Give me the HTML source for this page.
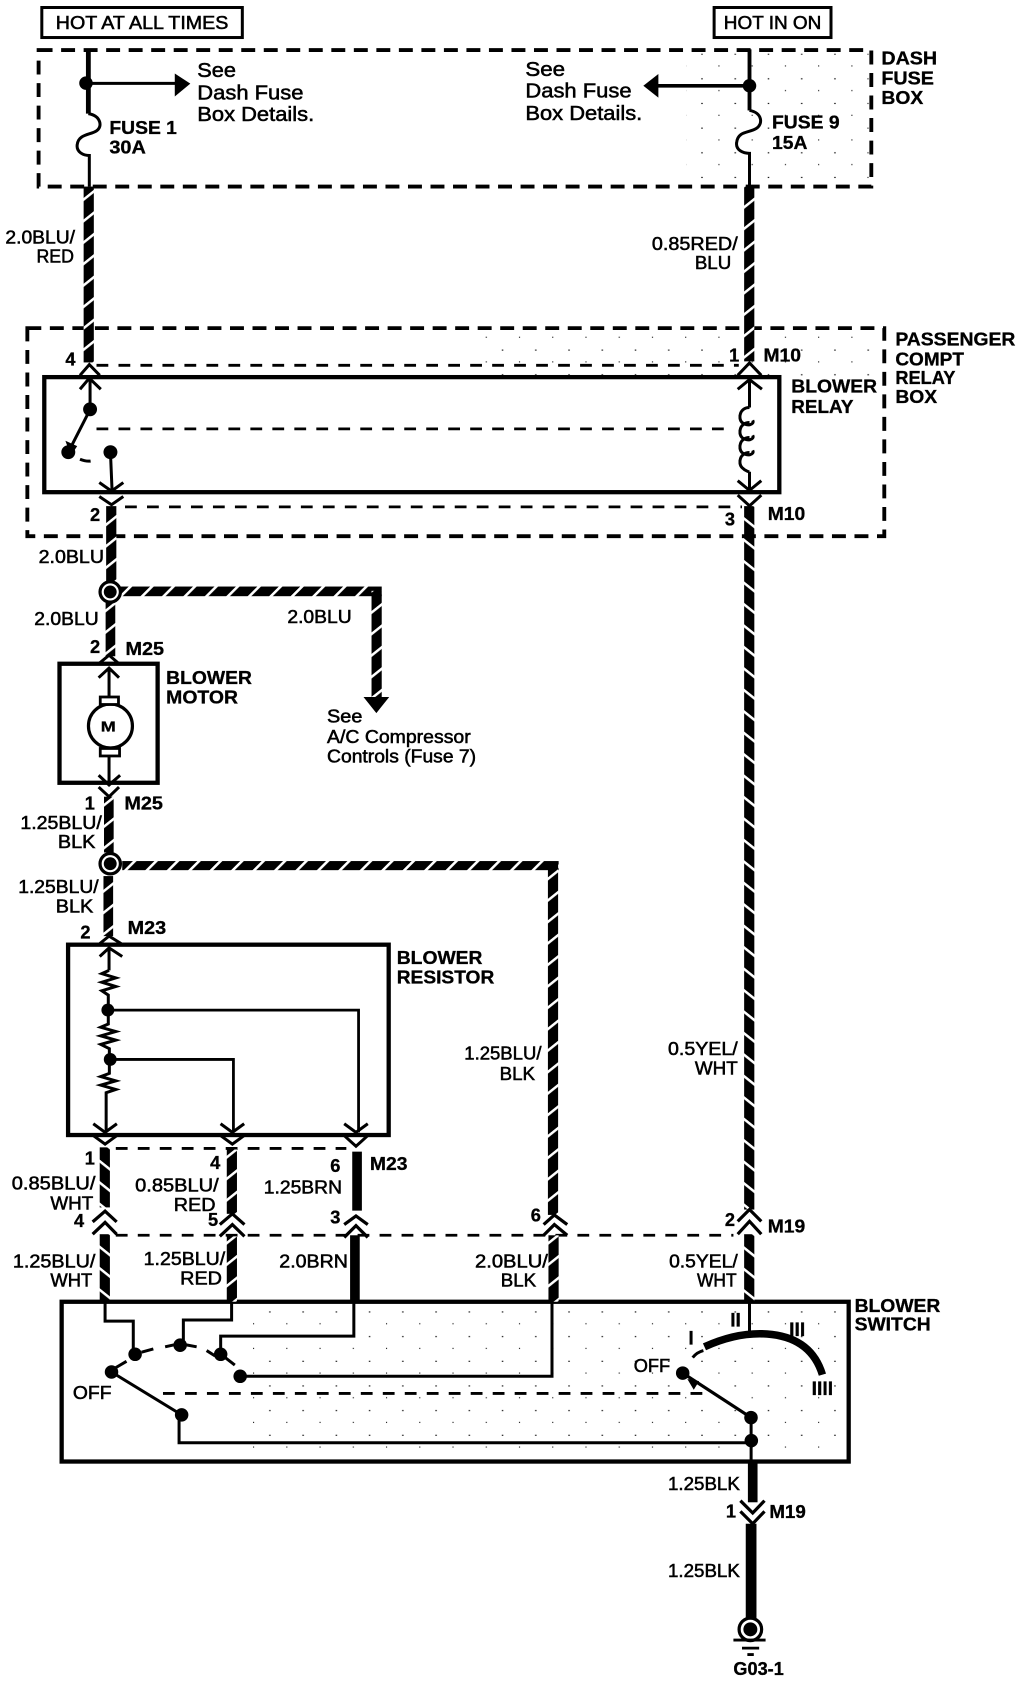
<!DOCTYPE html>
<html><head><meta charset="utf-8"><style>
html,body{margin:0;padding:0;background:#fff}
svg{display:block}
text{font-family:"Liberation Sans",Arial,sans-serif;font-size:17px;fill:#000;stroke:#000;stroke-width:.5px}
.b{font-weight:bold;stroke-width:.3px}
.s{font-size:19px}
.box{fill:none;stroke:#000;stroke-width:4}
.d{fill:none;stroke:#000;stroke-width:3.6;stroke-dasharray:13 8}
.i{fill:none;stroke:#000;stroke-width:2.6;stroke-dasharray:11 9.5}
.l{fill:none;stroke:#000;stroke-width:2.8}
.c{fill:none;stroke:#000;stroke-width:2.8;stroke-linejoin:miter}
</style></head><body>
<svg xmlns="http://www.w3.org/2000/svg" width="1024" height="1682" viewBox="0 0 955 1568.6" preserveAspectRatio="none">
<defs>
<pattern id="u" width="25" height="20" patternUnits="userSpaceOnUse" patternTransform="skewY(-38.66)"><rect width="25" height="20" fill="#000"/><rect y="7" width="25" height="3" fill="#fff"/></pattern>
<pattern id="e" width="25" height="20" patternUnits="userSpaceOnUse" patternTransform="skewY(38.66)"><rect width="25" height="20" fill="#000"/><rect y="7" width="25" height="3" fill="#fff"/></pattern>
<pattern id="h" width="20" height="20" patternUnits="userSpaceOnUse" patternTransform="skewX(-45)"><rect width="20" height="20" fill="#000"/><rect x="7" width="3.4" height="20" fill="#fff"/></pattern>
<pattern id="sp" width="31" height="23" patternUnits="userSpaceOnUse"><rect x="3" y="4" width="1.4" height="1" fill="#000"/><rect x="19" y="15" width="1" height="1" fill="#000"/></pattern>
</defs>

<!-- speckle -->
<rect x="640" y="50" width="170" height="120" fill="url(#sp)"/>
<rect x="440" y="312" width="380" height="40" fill="url(#sp)"/>
<rect x="225" y="1218" width="560" height="140" fill="url(#sp)"/>

<!-- top labels -->
<rect x="39" y="7" width="187" height="28" class="l"/>
<text x="52" y="27" textLength="161" lengthAdjust="spacingAndGlyphs">HOT AT ALL TIMES</text>
<rect x="666" y="7" width="109" height="28" class="l"/>
<text x="675" y="27" textLength="91" lengthAdjust="spacingAndGlyphs">HOT IN ON</text>

<!-- boxes -->
<rect x="36" y="46.7" width="776.6" height="127.3" class="d"/>
<rect x="25.5" y="306" width="799.2" height="194" class="d"/>
<rect x="41.3" y="351.7" width="685.5" height="107.3" class="box"/>
<rect x="55.5" y="619" width="91.5" height="111" class="box"/>
<rect x="63.5" y="881" width="299" height="177.5" class="box"/>
<rect x="57.5" y="1214" width="734" height="149" class="box"/>

<!-- inner dashed -->
<path d="M90 340.7H689M116.6 472.7H692M90 400H684M108 1071H323M108 1152H684M152 1299.5H658" class="i"/>

<!-- left top -->
<path d="M82.4 46V106" stroke="#000" stroke-width="4.5" fill="none"/>
<circle cx="80.2" cy="77.5" r="6.3"/>
<path d="M82 77.8H164" class="l"/>
<path d="M163 68.5L177.5 78L163 90Z"/>
<path d="M82.4 106C94 108 96 118 90 122C84 126 73 125 72 135C71 142 78 145 83.3 145V174" class="l"/>
<text x="184" y="72" class="s" textLength="36" lengthAdjust="spacingAndGlyphs">See</text>
<text x="184" y="93" class="s" textLength="99" lengthAdjust="spacingAndGlyphs">Dash Fuse</text>
<text x="184" y="113" class="s" textLength="109" lengthAdjust="spacingAndGlyphs">Box Details.</text>
<text x="102" y="125" class="b" textLength="63" lengthAdjust="spacingAndGlyphs">FUSE 1</text>
<text x="102" y="143" class="b" textLength="34" lengthAdjust="spacingAndGlyphs">30A</text>

<!-- right top -->
<path d="M699 46V103" stroke="#000" stroke-width="3.6" fill="none"/>
<circle cx="699" cy="80" r="6.3"/>
<path d="M699 80H612" stroke="#000" stroke-width="3.4" fill="none"/>
<path d="M614 69L600 80L614 91Z"/>
<path d="M699 103C711 105 712 116 705 120C699 124 688 122 687 133C686 140 693 143 699 143V174" class="l"/>
<text x="490" y="71" class="s" textLength="37" lengthAdjust="spacingAndGlyphs">See</text>
<text x="490" y="91" class="s" textLength="99" lengthAdjust="spacingAndGlyphs">Dash Fuse</text>
<text x="490" y="112" class="s" textLength="109" lengthAdjust="spacingAndGlyphs">Box Details.</text>
<text x="720" y="120" class="b" textLength="63" lengthAdjust="spacingAndGlyphs">FUSE 9</text>
<text x="720" y="139" class="b" textLength="33" lengthAdjust="spacingAndGlyphs">15A</text>
<text x="822" y="60" class="b" textLength="52" lengthAdjust="spacingAndGlyphs">DASH</text>
<text x="822" y="79" class="b" textLength="49" lengthAdjust="spacingAndGlyphs">FUSE</text>
<text x="822" y="97" class="b" textLength="39" lengthAdjust="spacingAndGlyphs">BOX</text>

<!-- twisted wires -->
<rect x="78" y="174" width="9.5" height="164" fill="url(#u)"/>
<rect x="694" y="174" width="9.5" height="163" fill="url(#u)"/>
<rect x="99" y="472" width="9.5" height="70" fill="url(#u)"/>
<rect x="98.5" y="562" width="9" height="50" fill="url(#u)"/>
<rect x="112" y="547" width="244" height="9" fill="url(#h)"/>
<rect x="346.5" y="551" width="9.5" height="100" fill="url(#u)"/>
<path d="M339 650H363L351 665Z"/>
<rect x="97" y="743" width="9" height="52" fill="url(#u)"/>
<rect x="96.5" y="817" width="9" height="56" fill="url(#u)"/>
<rect x="114" y="803" width="407" height="8.5" fill="url(#h)"/>
<rect x="511" y="806" width="9.5" height="327" fill="url(#u)"/>
<rect x="694" y="472" width="9.5" height="656" fill="url(#e)"/>
<rect x="93" y="1070" width="9.5" height="56" fill="url(#e)"/>
<rect x="211.5" y="1072" width="9.5" height="60" fill="url(#u)"/>
<rect x="328.5" y="1074" width="9" height="55" fill="#000"/>
<rect x="93" y="1151" width="9.5" height="63" fill="url(#e)"/>
<rect x="211.5" y="1153" width="9.5" height="61" fill="url(#u)"/>
<rect x="326.5" y="1152" width="9" height="62" fill="#000"/>
<rect x="511.5" y="1152" width="9.5" height="62" fill="url(#u)"/>
<rect x="694" y="1151" width="9.5" height="63" fill="url(#e)"/>
<rect x="697.5" y="1364" width="9" height="37" fill="#000"/>
<rect x="695.5" y="1421" width="10" height="90" fill="#000"/>

<!-- relay internals -->
<path d="M74.6 350L83.3 340L93 350M74.6 363L83.3 352.7L94 363M84 353V382M84 382L63.7 421.7M103 421.7L104.5 457M92.6 450L104 458L115 450M92.6 463L104 470.7L115 463M688 350L699 338.5L710 350M688 363L699 354L710.6 363M699 354V380M688 448.3L699 457.3L710 448.3M688 461.7L699 471.7L710 461.7M699 440V457" class="c"/>
<path d="M61 411L72 416L66 425Z"/>
<path d="M74.6 428.3Q80 430.5 84.5 430" class="l"/>
<circle cx="84" cy="381.7" r="6.5"/><circle cx="63.7" cy="421.7" r="6.5"/><circle cx="103" cy="421.7" r="6.5"/>
<path d="M699 380C690 380 688 390 692 394C697 398 704 396 702 392M699 394C690 394 688 404 692 408C697 412 704 410 702 406M699 408C690 408 688 418 692 422C697 426 704 424 702 420M699 422C690 422 688 432 692 436C696 440 699 440 699 440" class="l"/>

<!-- relay labels -->
<text x="835" y="322" class="b" textLength="112" lengthAdjust="spacingAndGlyphs">PASSENGER</text>
<text x="835" y="341" class="b" textLength="64" lengthAdjust="spacingAndGlyphs">COMPT</text>
<text x="835" y="358" class="b" textLength="56" lengthAdjust="spacingAndGlyphs">RELAY</text>
<text x="835" y="376" class="b" textLength="39" lengthAdjust="spacingAndGlyphs">BOX</text>
<text x="61" y="341" class="b">4</text>
<text x="680" y="337" class="b">1</text>
<text x="712" y="337" class="b" textLength="35" lengthAdjust="spacingAndGlyphs">M10</text>
<text x="738" y="366" class="b" textLength="80" lengthAdjust="spacingAndGlyphs">BLOWER</text>
<text x="738" y="385" class="b" textLength="58" lengthAdjust="spacingAndGlyphs">RELAY</text>
<text x="84" y="486" class="b">2</text>
<text x="676" y="490" class="b">3</text>
<text x="716" y="485" class="b" textLength="35" lengthAdjust="spacingAndGlyphs">M10</text>
<text x="5" y="227" textLength="65" lengthAdjust="spacingAndGlyphs">2.0BLU/</text>
<text x="34" y="245" textLength="35" lengthAdjust="spacingAndGlyphs">RED</text>
<text x="608" y="233" textLength="80" lengthAdjust="spacingAndGlyphs">0.85RED/</text>
<text x="648" y="251" textLength="34" lengthAdjust="spacingAndGlyphs">BLU</text>
<text x="36" y="525" textLength="61" lengthAdjust="spacingAndGlyphs">2.0BLU</text>
<text x="32" y="583" textLength="60" lengthAdjust="spacingAndGlyphs">2.0BLU</text>
<text x="268" y="581" textLength="60" lengthAdjust="spacingAndGlyphs">2.0BLU</text>
<text x="305" y="674" textLength="33" lengthAdjust="spacingAndGlyphs">See</text>
<text x="305" y="693" textLength="134" lengthAdjust="spacingAndGlyphs">A/C Compressor</text>
<text x="305" y="711" textLength="139" lengthAdjust="spacingAndGlyphs">Controls (Fuse 7)</text>

<!-- motor -->
<circle cx="102.8" cy="552" r="9.5" fill="#fff" stroke="#000" stroke-width="3"/><circle cx="102.8" cy="552" r="6"/>
<circle cx="102.8" cy="805.5" r="9.5" fill="#fff" stroke="#000" stroke-width="3"/><circle cx="102.8" cy="805.5" r="6"/>
<text x="84" y="609" class="b">2</text>
<text x="117" y="611" class="b" textLength="36" lengthAdjust="spacingAndGlyphs">M25</text>
<text x="155" y="638" class="b" textLength="80" lengthAdjust="spacingAndGlyphs">BLOWER</text>
<text x="155" y="656" class="b" textLength="67" lengthAdjust="spacingAndGlyphs">MOTOR</text>
<path d="M92 619L101.7 611L111 619M92 632L101.7 623L111 632M101.7 623V650M101.7 705V732M92 723L101.7 732L112 723M92 734L101.7 743L111 734" class="c"/>
<circle cx="103" cy="677" r="20.5" fill="#fff" stroke="#000" stroke-width="3"/>
<rect x="93.5" y="650" width="17" height="7" fill="#fff" stroke="#000" stroke-width="2.6"/>
<rect x="93.5" y="698" width="18" height="7" fill="#fff" stroke="#000" stroke-width="2.6"/>
<text x="94" y="682" class="b" style="font-size:14px" textLength="14" lengthAdjust="spacingAndGlyphs">M</text>
<text x="79" y="755" class="b">1</text>
<text x="116" y="755" class="b" textLength="36" lengthAdjust="spacingAndGlyphs">M25</text>
<text x="19" y="773" textLength="76" lengthAdjust="spacingAndGlyphs">1.25BLU/</text>
<text x="54" y="791" textLength="35" lengthAdjust="spacingAndGlyphs">BLK</text>
<text x="17" y="833" textLength="75" lengthAdjust="spacingAndGlyphs">1.25BLU/</text>
<text x="52" y="851" textLength="35" lengthAdjust="spacingAndGlyphs">BLK</text>
<text x="75" y="875" class="b">2</text>
<text x="119" y="871" class="b" textLength="36" lengthAdjust="spacingAndGlyphs">M23</text>

<!-- resistor -->
<text x="370" y="899" class="b" textLength="80" lengthAdjust="spacingAndGlyphs">BLOWER</text>
<text x="370" y="917" class="b" textLength="91" lengthAdjust="spacingAndGlyphs">RESISTOR</text>
<path d="M93 880L101.7 873L113 880M93 892L101.7 884L114 892M101.7 884V905" class="c"/>
<path d="M101.7 905L95 908L108 912L95 916L108 920L95 924L101 928V942M101 942V955L94 958L108 962L94 966L108 970L94 974L102 978V988M102 988V1001L94 1004L108 1008L94 1012L108 1016L99 1019V1056" class="l"/>
<circle cx="100.6" cy="942" r="6"/><circle cx="102.8" cy="988" r="6"/>
<path d="M101 942H334.4V1056M103 988H217.7V1056" stroke="#000" stroke-width="2.6" fill="none"/>
<path d="M87 1048L98 1056L109 1048M87 1059L98 1067L109 1059M205.7 1048L216.7 1056L227.7 1048M205.7 1059L216.7 1067L227.7 1059M321 1048L332 1056L343 1048M321 1059L332 1069L343 1059" class="c"/>

<!-- mid labels -->
<text x="433" y="988" textLength="72" lengthAdjust="spacingAndGlyphs">1.25BLU/</text>
<text x="466" y="1007" textLength="33" lengthAdjust="spacingAndGlyphs">BLK</text>
<text x="623" y="984" textLength="65" lengthAdjust="spacingAndGlyphs">0.5YEL/</text>
<text x="648" y="1002" textLength="40" lengthAdjust="spacingAndGlyphs">WHT</text>
<text x="79" y="1086" class="b">1</text>
<text x="196" y="1090" class="b">4</text>
<text x="308" y="1093" class="b">6</text>
<text x="345" y="1091" class="b" textLength="35" lengthAdjust="spacingAndGlyphs">M23</text>
<text x="11" y="1109.5" textLength="78" lengthAdjust="spacingAndGlyphs">0.85BLU/</text>
<text x="47" y="1128" textLength="40" lengthAdjust="spacingAndGlyphs">WHT</text>
<text x="126" y="1111" textLength="78" lengthAdjust="spacingAndGlyphs">0.85BLU/</text>
<text x="162" y="1129.5" textLength="39" lengthAdjust="spacingAndGlyphs">RED</text>
<text x="246" y="1113" textLength="73" lengthAdjust="spacingAndGlyphs">1.25BRN</text>
<text x="69" y="1144.5" class="b">4</text>
<text x="194" y="1143.5" class="b">5</text>
<text x="308" y="1141" class="b">3</text>
<text x="495" y="1139" class="b">6</text>
<text x="676" y="1143.5" class="b">2</text>
<text x="716" y="1149.5" class="b" textLength="35" lengthAdjust="spacingAndGlyphs">M19</text>
<text x="12" y="1182" textLength="77" lengthAdjust="spacingAndGlyphs">1.25BLU/</text>
<text x="47" y="1200" textLength="39" lengthAdjust="spacingAndGlyphs">WHT</text>
<text x="134" y="1179.5" textLength="76" lengthAdjust="spacingAndGlyphs">1.25BLU/</text>
<text x="168" y="1198" textLength="39" lengthAdjust="spacingAndGlyphs">RED</text>
<text x="260.5" y="1182" textLength="64" lengthAdjust="spacingAndGlyphs">2.0BRN</text>
<text x="443" y="1182" textLength="68" lengthAdjust="spacingAndGlyphs">2.0BLU/</text>
<text x="467" y="1200" textLength="33" lengthAdjust="spacingAndGlyphs">BLK</text>
<text x="624" y="1182" textLength="64" lengthAdjust="spacingAndGlyphs">0.5YEL/</text>
<text x="650" y="1200" textLength="37" lengthAdjust="spacingAndGlyphs">WHT</text>

<!-- connector chevrons -->
<path d="M86.4 1139.5L98 1129.5L108.8 1139.5M86.4 1151L98 1140L108.8 1151M205 1142L216.7 1132L228 1142M205 1153L216.7 1142L228 1153M321 1142L332 1134L343 1142M321 1154L332 1143L343 1154M507 1142L517 1133L529 1142M507 1152L517 1142L529 1152M688 1139L699 1128L710 1139M688 1151L699 1139L710 1151M690.5 1399.5L702 1411L713 1399.5M690.5 1409.5L702 1421L713 1409.5" fill="none" stroke="#000" stroke-width="3"/>

<!-- switch internals -->
<path d="M98 1214V1232H124.3V1258M216 1214V1231H171V1250M330 1214V1246H205.8V1258M224 1283.5H514.8V1214M167 1320V1345.5H700.7M699 1214V1243M700.5 1322V1363" class="l"/>
<circle cx="126" cy="1263" r="6.3"/><circle cx="168" cy="1254.5" r="6.3"/><circle cx="205.8" cy="1263" r="6.3"/><circle cx="224" cy="1283.5" r="6.3"/><circle cx="104" cy="1279.5" r="6.3"/><circle cx="169.4" cy="1319.5" r="6.3"/>
<path d="M104 1279.5L169.4 1319.5M107 1276L118 1269.5M132 1261L143 1258M154 1256L163 1254M172.5 1254L183.4 1256M192.7 1259.5L200.5 1264.5M210 1266L219 1273" class="l"/>
<text x="68" y="1304.5" textLength="36" lengthAdjust="spacingAndGlyphs">OFF</text>
<text x="591" y="1279.5" textLength="34" lengthAdjust="spacingAndGlyphs">OFF</text>
<path d="M657 1256Q690 1241 720 1244.5Q757 1249 767 1282" fill="none" stroke="#000" stroke-width="7"/>
<path d="M646 1266Q650 1261 656 1259.5" class="l"/>
<circle cx="636.7" cy="1280.5" r="6.3"/><circle cx="700.4" cy="1322" r="6.3"/><circle cx="700.7" cy="1343.5" r="6.3"/>
<path d="M636.7 1280.5L700.4 1322" stroke="#000" stroke-width="3" fill="none"/>
<path d="M641 1286L652 1288L647 1296Z"/>
<text x="681" y="1237" class="b" style="font-size:18px">II</text>
<text x="642" y="1254" class="b" style="font-size:18px">I</text>
<text x="736" y="1246" class="b" style="font-size:18px">III</text>
<text x="757" y="1301" class="b" style="font-size:18px">IIII</text>
<text x="797" y="1223.5" class="b" textLength="80" lengthAdjust="spacingAndGlyphs">BLOWER</text>
<text x="797" y="1241" class="b" textLength="71" lengthAdjust="spacingAndGlyphs">SWITCH</text>

<!-- ground -->
<text x="623" y="1389.5" textLength="67" lengthAdjust="spacingAndGlyphs">1.25BLK</text>
<text x="623" y="1470.5" textLength="67" lengthAdjust="spacingAndGlyphs">1.25BLK</text>
<text x="677" y="1415" class="b">1</text>
<text x="717.5" y="1415.5" class="b" textLength="34" lengthAdjust="spacingAndGlyphs">M19</text>
<circle cx="699.8" cy="1519.5" r="10.5" fill="#fff" stroke="#000" stroke-width="3"/>
<circle cx="699.8" cy="1519.5" r="6.5"/>
<path d="M684 1529.5H714M692 1537H708M697 1543H703" stroke="#000" stroke-width="2.6" fill="none"/>
<text x="684" y="1562" class="b" textLength="47" lengthAdjust="spacingAndGlyphs">G03-1</text>
</svg>
</body></html>
